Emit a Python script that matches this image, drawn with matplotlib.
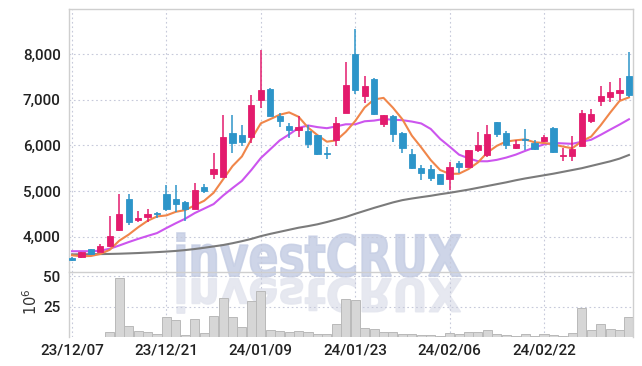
import numpy as np
import matplotlib
matplotlib.use("Agg")
import matplotlib.pyplot as plt
from matplotlib.textpath import TextPath
from matplotlib.patches import PathPatch
from matplotlib.font_manager import FontProperties
from matplotlib.transforms import Affine2D, IdentityTransform

plt.rcParams['font.family'] = ['Roboto', 'DejaVu Sans']
plt.rcParams['font.weight'] = 'medium'

# 일봉 데이터 (23/12/07 ~ 24/03/07)
opens = [3535, 3550, 3720, 3670, 3800, 4145, 4825, 4355, 4440, 4525,
         4940, 4825, 4760, 4605, 5090, 5375, 5315, 6270, 6220, 6185,
         7000, 7235, 6645, 6425, 6345, 6315, 6220, 5830, 6110, 6715,
         8000, 7090, 7455, 6475, 6650, 6280, 5810, 5510, 5480, 5375,
         5270, 5610, 5535, 5900, 5790, 6510, 6265, 5945, 6145, 6055,
         6095, 6380, 5775, 5775, 5995, 6540, 6980, 7070, 7140, 7520]
highs = [3560, 3660, 3735, 3830, 4450, 4930, 4940, 4555, 4600, 4550,
         5130, 5130, 4780, 5180, 5160, 5840, 6660, 6660, 6440, 7100,
         8090, 7250, 6705, 6500, 6645, 6445, 6220, 5970, 6615, 7835,
         8545, 7530, 7470, 6670, 6670, 6300, 5915, 5575, 5560, 5380,
         5645, 5660, 5900, 6300, 6440, 6515, 6310, 6120, 6355, 6120,
         6230, 6395, 5945, 6205, 6780, 6790, 7300, 7395, 7485, 8055]
lows = [3470, 3540, 3600, 3660, 3780, 4115, 4260, 4315, 4320, 4410,
        4560, 4535, 4340, 4605, 4960, 5270, 5315, 5840, 5985, 6045,
        6825, 6640, 6410, 6160, 6190, 5935, 5790, 5710, 5985, 6715,
        7120, 6920, 6670, 6410, 6080, 5830, 5480, 5240, 5225, 5150,
        5030, 5400, 5530, 5850, 5750, 6190, 5930, 5930, 5900, 5900,
        6070, 5840, 5665, 5665, 5990, 6485, 6865, 6960, 6990, 7070]
closes = [3495, 3655, 3610, 3785, 4010, 4490, 4325, 4410, 4495, 4490,
          4605, 4720, 4600, 5015, 4990, 5480, 6185, 6055, 6080, 6885,
          7215, 6645, 6535, 6340, 6405, 6035, 5810, 5815, 6490, 7335,
          7220, 7300, 6690, 6665, 6255, 5950, 5510, 5395, 5285, 5160,
          5525, 5535, 5900, 6010, 6250, 6255, 6015, 6030, 6110, 5930,
          6185, 5855, 5795, 5920, 6710, 6690, 7085, 7170, 7215, 7105]

# 이동평균선
ma_short = [3590, 3570, 3575, 3620, 3711, 3910, 4044, 4204, 4346, 4442,
            4465, 4544, 4582, 4686, 4786, 4961, 5254, 5545, 5758, 6137,
            6484, 6576, 6672, 6724, 6628, 6392, 6225, 6081, 6111, 6297,
            6534, 6832, 7007, 7042, 6826, 6572, 6214, 5955, 5679, 5460,
            5375, 5380, 5481, 5626, 5844, 5990, 6086, 6112, 6132, 6068,
            6054, 6022, 5975, 5937, 6093, 6194, 6440, 6715, 6974, 7053]
ma_mid = [3680, 3680, 3680, 3690, 3735, 3805, 3880, 3950, 4015, 4077,
          4188, 4294, 4393, 4516, 4614, 4713, 4899, 5064, 5222, 5462,
          5723, 5915, 6109, 6241, 6383, 6438, 6401, 6377, 6418, 6463,
          6463, 6529, 6544, 6577, 6562, 6553, 6523, 6481, 6361, 6143,
          5974, 5797, 5718, 5653, 5652, 5683, 5733, 5797, 5879, 5956,
          6022, 6054, 6044, 6035, 6081, 6124, 6231, 6345, 6456, 6573]
ma_long = [3610, 3612, 3614, 3617, 3620, 3625, 3632, 3640, 3650, 3660,
           3672, 3686, 3705, 3728, 3755, 3785, 3815, 3855, 3900, 3950,
           4010, 4060, 4105, 4150, 4195, 4230, 4270, 4320, 4375, 4430,
           4500, 4565, 4630, 4690, 4750, 4800, 4835, 4866, 4895, 4930,
           4960, 4995, 5030, 5070, 5110, 5150, 5190, 5235, 5275, 5310,
           5345, 5380, 5420, 5460, 5500, 5550, 5600, 5650, 5710, 5790]

# 거래량 (백만 주)
volume = [0, 0, 0, 0, 3.8, 48, 8.7, 4.6, 3.8, 2.2,
          16, 13.7, 1.4, 14.5, 3, 17, 31.7, 16, 8, 29.5,
          37.4, 5.5, 4.6, 3.8, 4.6, 3.8, 2.2, 2.2, 10.4, 30.9,
          30, 7.1, 6.3, 3.8, 3.8, 2.2, 2.2, 1.4, 1.4, 0.8,
          3, 2.2, 3.8, 3.8, 5.5, 2.2, 1.4, 0.5, 2.2, 0.5,
          2.2, 1.4, 0.5, 3, 23.5, 5.5, 10.4, 6.3, 5.5, 16]

tick_pos = [0, 10, 20, 30, 40, 50]
tick_labels = ['23/12/07', '23/12/21', '24/01/09', '24/01/23', '24/02/06', '24/02/22']

UP = '#e31b6d'
DOWN = '#2d95c9'
GRID = '#c6c9da'
SPINE = '#cfcfcf'

fig = plt.figure(figsize=(6.42, 3.66), dpi=100)
fig.patch.set_facecolor('white')
ax = fig.add_axes([69/642, 94/366, 564/642, 263/366])
axv = fig.add_axes([69/642, 29/366, 564/642, 65/366], sharex=ax)
for a in (ax, axv):
    a.set_facecolor('none')

x = np.arange(len(closes))
o = np.array(opens); c = np.array(closes)
cols = [UP if cc >= oo else DOWN for oo, cc in zip(o, c)]

# 심지 + 몸통
ax.vlines(x, lows, highs, colors=cols, linewidth=1.1, zorder=3)
ax.bar(x, np.abs(c - o), bottom=np.minimum(o, c), width=0.66, color=cols,
       edgecolor=cols, linewidth=0.6, zorder=4)

ax.plot(x, ma_long, color='#7b7b7b', lw=1.5, zorder=2)
ax.plot(x, ma_mid, color='#cc55ee', lw=1.5, zorder=2)
ax.plot(x, ma_short, color='#f0864a', lw=1.5, zorder=2)

ax.set_ylim(3224, 8991)
ax.set_yticks([4000, 5000, 6000, 7000, 8000])
ax.set_yticklabels(['4,000', '5,000', '6,000', '7,000', '8,000'])
ax.set_xlim(-0.32, 59.43)

axv.bar(x, volume, width=0.96, color='#d6d6d6', edgecolor='#b9b9b9', linewidth=0.7, zorder=2)
axv.set_ylim(0, 53.3)
axv.set_yticks([25, 50])
axv.set_yticklabels(['25', '50'])
axv.set_xticks(tick_pos)
axv.set_xticklabels(tick_labels)
axv.set_ylabel(r'$10^{6}$', fontsize=10.5, color='#333333')
axv.yaxis.set_label_coords(-0.052, 0.55)

for a in (ax, axv):
    a.grid(True, color=GRID, linestyle=(0, (1.5, 2.5)), linewidth=0.8, zorder=0)
    a.set_axisbelow(True)
    a.tick_params(length=0, labelsize=11, labelcolor='#222222')
    for s in a.spines.values():
        s.set_color(SPINE)
        s.set_linewidth(1.0)
ax.tick_params(axis='y', pad=6)
ax.tick_params(axis='x', labelbottom=False)
axv.tick_params(axis='y', pad=6)
axv.tick_params(axis='x', pad=5)
axv.spines['top'].set_visible(False)
axv.spines['bottom'].set_visible(False)

# 워터마크
fp = FontProperties(family=['DejaVu Sans'], weight='bold')
tp = TextPath((0, 0), 'investCRUX', size=100, prop=fp)
ext = tp.get_extents()
W, H = 642, 366
left, right, top, base = 177, 461, 233, 277
sx = (right - left) / ext.width
sy = (base - top) / ext.height
tr = Affine2D().translate(-ext.x0, -ext.y0).scale(sx, sy).translate(left, H - base)
fig.add_artist(PathPatch(tp, transform=tr + IdentityTransform(), facecolor='#c6cee4',
                         edgecolor='#c6cee4', linewidth=1.2, alpha=0.85, zorder=-1))
tr2 = Affine2D().translate(-ext.x0, -ext.y0).scale(sx, -sy * 0.8).translate(left, H - base - 1)
fig.add_artist(PathPatch(tp, transform=tr2 + IdentityTransform(), facecolor='#e4e6ef',
                         edgecolor='#e4e6ef', linewidth=1.0, alpha=0.9, zorder=-1))

fig.savefig('out.png', dpi=100)
